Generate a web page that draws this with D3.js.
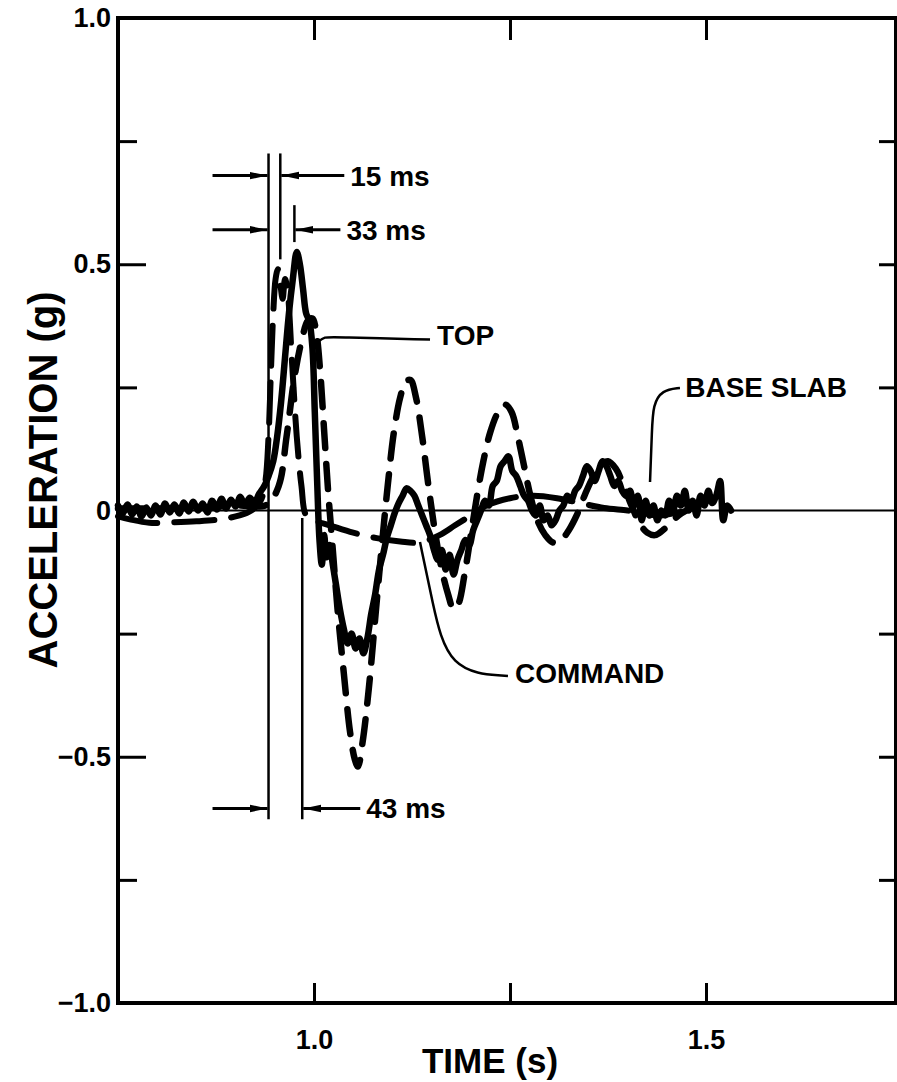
<!DOCTYPE html>
<html>
<head>
<meta charset="utf-8">
<script src="https://cdn.jsdelivr.net/npm/d3@7"></script>
<style>
  html, body { margin: 0; padding: 0; background: #fff; }
  svg { display: block; }
  text { font-family: "Liberation Sans", Arial, Helvetica, sans-serif; font-weight: bold; fill: #000; }
</style>
</head>
<body>
<svg id="chart" width="897" height="1082"></svg>
<script>
// ---- data: time (s), acceleration (g) ----
const baseSlab = [
  [0.750,0.010],[0.756,-0.006],[0.762,0.012],[0.768,-0.008],[0.774,0.008],[0.780,-0.012],
  [0.786,0.006],[0.792,-0.010],[0.798,0.010],[0.804,-0.008],[0.810,0.014],[0.816,-0.004],
  [0.822,0.012],[0.828,-0.006],[0.834,0.016],[0.840,-0.002],[0.846,0.018],[0.852,0.000],
  [0.858,0.014],[0.864,-0.004],[0.870,0.020],[0.876,0.002],[0.882,0.024],[0.888,0.004],
  [0.894,0.022],[0.900,0.008],[0.906,0.028],[0.912,0.010],[0.918,0.026],[0.924,0.016],
  [0.930,0.034],[0.936,0.048],[0.942,0.070],[0.948,0.100],[0.953,0.150],[0.958,0.220],
  [0.963,0.310],[0.968,0.400],[0.973,0.470],[0.978,0.525],[0.982,0.500],[0.986,0.450],
  [0.990,0.400],[0.994,0.385],[0.998,0.330],[1.001,0.200],[1.004,0.060],[1.007,-0.060],
  [1.010,-0.110],[1.013,-0.050],[1.016,-0.095],[1.020,-0.070],[1.024,-0.110],[1.028,-0.150],
  [1.033,-0.200],[1.038,-0.240],[1.043,-0.270],[1.048,-0.250],[1.053,-0.280],[1.058,-0.260],
  [1.063,-0.290],[1.068,-0.260],[1.073,-0.210],[1.078,-0.170],[1.083,-0.120],[1.088,-0.090],
  [1.093,-0.055],[1.098,-0.030],[1.103,-0.005],[1.108,0.015],[1.113,0.030],[1.118,0.045],
  [1.123,0.040],[1.128,0.030],[1.133,0.010],[1.138,-0.010],[1.143,-0.030],[1.148,-0.050],
  [1.153,-0.080],[1.158,-0.100],[1.163,-0.080],[1.168,-0.120],[1.173,-0.090],[1.178,-0.130],
  [1.183,-0.100],[1.188,-0.080],[1.193,-0.060],[1.198,-0.070],[1.203,-0.040],[1.208,-0.020],
  [1.213,0.000],[1.218,0.020],[1.223,0.010],[1.228,0.050],[1.233,0.060],[1.238,0.090],
  [1.243,0.100],[1.248,0.110],[1.253,0.080],[1.258,0.070],[1.263,0.050],[1.268,0.030],
  [1.273,0.020],[1.278,0.000],[1.283,-0.010],[1.288,0.010],[1.293,-0.020],[1.298,-0.010],
  [1.303,-0.030],[1.308,-0.020],[1.313,0.000],[1.318,0.010],[1.323,0.030],[1.328,0.020],
  [1.333,0.040],[1.338,0.050],[1.343,0.070],[1.348,0.090],[1.353,0.080],[1.358,0.060],
  [1.363,0.080],[1.368,0.100],[1.373,0.090],[1.378,0.070],[1.383,0.050],[1.388,0.060],
  [1.393,0.040],[1.398,0.030],[1.403,0.040],[1.408,0.010],[1.413,0.030],[1.418,-0.020],
  [1.423,0.020],[1.428,-0.010],[1.433,0.010],[1.438,-0.020],[1.443,0.000],[1.448,-0.010],
  [1.453,0.020],[1.458,0.000],[1.463,0.030],[1.468,0.010],[1.473,0.040],[1.478,0.000],
  [1.483,0.020],[1.488,-0.010],[1.493,0.030],[1.498,0.010],[1.503,0.040],[1.508,0.015],
  [1.513,0.030],[1.518,0.060],[1.522,-0.020],[1.527,0.010],[1.532,0.000]
];

const topResponse = [
  [0.750,0.004],[0.800,0.004],[0.850,0.006],[0.900,0.010],[0.940,0.012],[0.955,0.050],
  [0.965,0.150],[0.975,0.270],[0.985,0.350],[0.992,0.385],[0.998,0.390],[1.003,0.360],
  [1.008,0.280],[1.013,0.160],[1.018,0.040],[1.024,-0.080],[1.030,-0.200],[1.038,-0.330],
  [1.046,-0.450],[1.052,-0.505],[1.056,-0.520],[1.062,-0.470],[1.070,-0.360],[1.078,-0.220],
  [1.086,-0.080],[1.094,0.050],[1.102,0.160],[1.110,0.230],[1.117,0.262],[1.123,0.265],
  [1.130,0.230],[1.138,0.150],[1.146,0.050],[1.155,-0.050],[1.163,-0.120],[1.171,-0.170],
  [1.178,-0.200],[1.184,-0.190],[1.192,-0.130],[1.200,-0.050],[1.208,0.030],[1.216,0.100],
  [1.225,0.160],[1.235,0.200],[1.244,0.215],[1.252,0.200],[1.260,0.150],[1.268,0.090],
  [1.276,0.030],[1.285,-0.020],[1.295,-0.050],[1.305,-0.065],[1.315,-0.060],[1.325,-0.040],
  [1.335,-0.010],[1.345,0.030],[1.355,0.065],[1.365,0.090],[1.375,0.100],[1.385,0.085],
  [1.395,0.050],[1.405,0.010],[1.415,-0.025],[1.425,-0.045],[1.435,-0.050],[1.445,-0.040],
  [1.455,-0.025],[1.465,-0.010],[1.475,0.000]
];

const command = [
  [0.750,-0.012],[0.765,-0.018],[0.790,-0.025],[0.820,-0.024],[0.850,-0.022],[0.880,-0.018],
  [0.905,-0.010],[0.920,0.000],[0.932,0.020],[0.938,0.060],[0.942,0.150],[0.945,0.280],
  [0.948,0.400],[0.951,0.470],[0.954,0.490],[0.957,0.460],[0.960,0.430],[0.963,0.470],
  [0.966,0.450],[0.972,0.300],[0.978,0.150],[0.984,0.050],[0.990,-0.010],[1.000,-0.020],
  [1.020,-0.030],[1.050,-0.045],[1.080,-0.056],[1.110,-0.063],[1.135,-0.065],[1.160,-0.050],
  [1.180,-0.030],[1.200,-0.010],[1.220,0.010],[1.250,0.025],[1.280,0.030],[1.310,0.025],
  [1.340,0.015],[1.370,0.005],[1.400,0.000],[1.420,-0.005],[1.440,-0.010],[1.460,-0.005],
  [1.480,0.000]
];

// axis ticks
const xTicks = [1.0, 1.25, 1.5];
const xTickLabels = ["1.0", "", "1.5"];
const yMajor = [-1.0, -0.5, 0, 0.5, 1.0];
const yMajorLabels = ["\u22121.0", "\u22120.5", "0", "0.5", "1.0"];
const yMinor = [-0.75, -0.25, 0.25, 0.75];
const yRightTicks = [-0.75, -0.5, -0.25, 0.25, 0.5, 0.75];

// time-interval annotations (s): reference instant and offsets
const refInstant = 0.942;
const intervals = [
  { label: "15 ms", dt: 0.015, a: 0.68, top: 0.725, bottom: 0.51, shaft: 64 },
  { label: "33 ms", dt: 0.033, a: 0.57, top: 0.62, bottom: 0.545, shaft: 46 },
  { label: "43 ms", dt: 0.043, a: -0.605, top: -0.015, bottom: -0.627, shaft: 58 }
];

// curve labels with leader paths (data units)
const curveLabels = [
  { text: "TOP", at: [1.157, 0.336],
    leader: [[1.005, 0.342], [1.013, 0.353], [1.027, 0.352], [1.148, 0.347]] },
  { text: "BASE SLAB", at: [1.4735, 0.2305],
    leader: [[1.4668, 0.2487], [1.4439, 0.2447], [1.4324, 0.2142], [1.4311, 0.1635], [1.4286, 0.0579]] },
  { text: "COMMAND", at: [1.2564, -0.350],
    leader: [[1.1352, -0.064], [1.1505, -0.1817], [1.1709, -0.3279], [1.2474, -0.3360]] }
];

// ---- layout ----
const svg = d3.select("#chart");
const left = 118, right = 902, topY = 18, bottom = 1003;
const x = d3.scaleLinear().domain([0.75, 1.75]).range([left, right]);
const y = d3.scaleLinear().domain([-1, 1]).range([bottom, topY]);

// arrowhead marker
svg.append("defs").append("marker")
  .attr("id", "arrow")
  .attr("viewBox", "0 0 18 10")
  .attr("refX", 18).attr("refY", 5)
  .attr("markerWidth", 18).attr("markerHeight", 10)
  .attr("markerUnits", "userSpaceOnUse")
  .attr("orient", "auto")
  .append("path").attr("d", "M0,1.2 L18,5 L0,8.8 Z").attr("fill", "#000");

// zero line
svg.append("line")
  .attr("x1", left).attr("x2", 897)
  .attr("y1", y(0)).attr("y2", y(0))
  .attr("stroke", "#000").attr("stroke-width", 2);

// frame
svg.append("path")
  .attr("d", `M${left},${topY} L896,${topY} L896,${bottom} L${left},${bottom} Z`)
  .attr("fill", "none").attr("stroke", "#000").attr("stroke-width", 4);

function styleAxis(g) {
  g.select(".domain").remove();
  g.selectAll(".tick line").attr("stroke", "#000").attr("stroke-width", 3);
}
function styleLabels(g) {
  g.selectAll("text")
    .attr("font-size", 27)
    .attr("font-family", "Liberation Sans, Arial, sans-serif")
    .attr("font-weight", "bold");
}

// left axis: long inward ticks at labelled values
svg.append("g")
  .attr("transform", `translate(${left},0)`)
  .call(d3.axisLeft(y).tickValues(yMajor).tickSize(-28).tickPadding(7)
    .tickFormat((d, i) => yMajorLabels[i]))
  .call(styleAxis)
  .call(styleLabels);

svg.append("g")
  .attr("transform", `translate(${left},0)`)
  .call(d3.axisLeft(y).tickValues(yMinor).tickSize(-19).tickFormat(""))
  .call(styleAxis);

// right axis: inward ticks
svg.append("g")
  .attr("transform", "translate(896,0)")
  .call(d3.axisRight(y).tickValues(yRightTicks).tickSize(-17).tickFormat(""))
  .call(styleAxis);

// top axis: inward ticks
svg.append("g")
  .attr("transform", `translate(0,${topY})`)
  .call(d3.axisTop(x).tickValues(xTicks).tickSize(-22).tickFormat(""))
  .call(styleAxis);

// bottom axis
svg.append("g")
  .attr("transform", `translate(0,${bottom})`)
  .call(d3.axisBottom(x).tickValues(xTicks).tickSize(-20).tickPadding(27)
    .tickFormat((d, i) => xTickLabels[i]))
  .call(styleAxis)
  .call(styleLabels);

// axis titles
svg.append("text")
  .attr("x", 490).attr("y", 1073)
  .attr("text-anchor", "middle")
  .attr("font-size", 35)
  .text("TIME (s)");

svg.append("text")
  .attr("transform", "translate(57,480) rotate(-90)")
  .attr("text-anchor", "middle")
  .attr("font-size", 40)
  .text("ACCELERATION (g)");

// ---- series ----
const line = d3.line()
  .x(d => x(d[0])).y(d => y(d[1]))
  .curve(d3.curveCatmullRom.alpha(0.5));

svg.append("path").datum(command)
  .attr("d", line)
  .attr("fill", "none").attr("stroke", "#000")
  .attr("stroke-width", 6)
  .attr("stroke-linecap", "round").attr("stroke-linejoin", "round")
  .attr("stroke-dasharray", "40,17");

svg.append("path").datum(topResponse)
  .attr("d", line)
  .attr("fill", "none").attr("stroke", "#000")
  .attr("stroke-width", 6.5)
  .attr("stroke-linecap", "round").attr("stroke-linejoin", "round")
  .attr("stroke-dasharray", "25,16");

svg.append("path").datum(baseSlab)
  .attr("d", line)
  .attr("fill", "none").attr("stroke", "#000")
  .attr("stroke-width", 6.5)
  .attr("stroke-linecap", "round").attr("stroke-linejoin", "round");

// ---- interval annotations ----
const annot = svg.append("g");
// reference instant line
annot.append("line")
  .attr("x1", x(refInstant)).attr("x2", x(refInstant))
  .attr("y1", y(0.725)).attr("y2", y(-0.627))
  .attr("stroke", "#000").attr("stroke-width", 2.5);

intervals.forEach(iv => {
  const xe = x(refInstant + iv.dt);
  const xr = x(refInstant);
  const yy = y(iv.a);
  annot.append("line")
    .attr("x1", xe).attr("x2", xe)
    .attr("y1", y(iv.top)).attr("y2", y(iv.bottom))
    .attr("stroke", "#000").attr("stroke-width", 2.5);
  annot.append("line")
    .attr("x1", xr - 56).attr("x2", xr - 1)
    .attr("y1", yy).attr("y2", yy)
    .attr("stroke", "#000").attr("stroke-width", 3)
    .attr("marker-end", "url(#arrow)");
  annot.append("line")
    .attr("x1", xe + iv.shaft).attr("x2", xe + 1)
    .attr("y1", yy).attr("y2", yy)
    .attr("stroke", "#000").attr("stroke-width", 3)
    .attr("marker-end", "url(#arrow)");
  annot.append("text")
    .attr("x", xe + iv.shaft + 6).attr("y", yy + 10)
    .attr("font-size", 28)
    .text(iv.label);
});

// ---- curve labels ----
const leaderLine = d3.line().x(d => x(d[0])).y(d => y(d[1])).curve(d3.curveBasis);
curveLabels.forEach(c => {
  svg.append("path")
    .attr("d", leaderLine(c.leader))
    .attr("fill", "none").attr("stroke", "#000").attr("stroke-width", 2.5);
  svg.append("text")
    .attr("x", x(c.at[0])).attr("y", y(c.at[1]))
    .attr("font-size", 28)
    .text(c.text);
});
</script>
</body>
</html>
